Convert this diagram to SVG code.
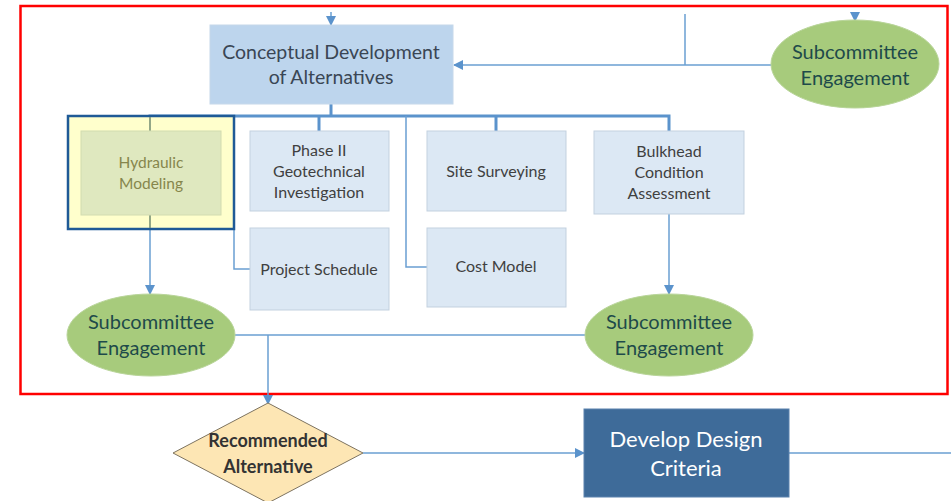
<svg xmlns="http://www.w3.org/2000/svg" width="951" height="501" viewBox="0 0 951 501">
<style>
text{font-family:Lato,"Liberation Sans",sans-serif;text-anchor:middle}
.box{fill:#dce8f4;stroke:#c3d1df;stroke-width:1}
.bt{font-size:16px;fill:#404040}
.ell{fill:#a7cb7c;stroke:#b9d59a;stroke-width:1}
.et{font-size:20px;fill:#1e4a4a}
.c{fill:none;stroke:#6a9fd2;stroke-width:1.5}
.ct{fill:none;stroke:#5b93cc;stroke-width:3}
</style>
<defs>
<marker id="ah" markerWidth="10" markerHeight="10" refX="9" refY="5" orient="auto" markerUnits="userSpaceOnUse">
<path d="M0,0 L10,5 L0,10 Z" fill="#5b93cc"/>
</marker>
</defs>
<rect x="20.5" y="6" width="927" height="388" fill="none" stroke="#ff0000" stroke-width="2.5"/>
<g id="connectors">
<line class="c" x1="331" y1="12" x2="331" y2="25" marker-end="url(#ah)"/>
<line class="c" x1="855" y1="12" x2="855" y2="21" marker-end="url(#ah)"/>
<line class="c" x1="685" y1="14" x2="685" y2="65"/>
<line class="c" x1="772" y1="65" x2="454" y2="65" marker-end="url(#ah)"/>
<line class="ct" x1="331" y1="104" x2="331" y2="116"/>
<polyline class="ct" points="150,131 150,116 669,116 669,131"/>
<line class="ct" x1="319" y1="116" x2="319" y2="131"/>
<line class="ct" x1="496" y1="116" x2="496" y2="131"/>
<polyline class="c" points="234,116 234,269 250,269"/>
<polyline class="c" points="406,116 406,267 427,267"/>
<line class="c" x1="150" y1="229" x2="150" y2="294" marker-end="url(#ah)"/>
<line class="c" x1="669" y1="214" x2="669" y2="294" marker-end="url(#ah)"/>
<line class="c" x1="235" y1="335" x2="585" y2="335"/>
<line class="c" x1="268" y1="335" x2="268" y2="404" marker-end="url(#ah)"/>
<line class="c" x1="363" y1="453" x2="584" y2="453" marker-end="url(#ah)"/>
<line class="c" x1="789" y1="453" x2="951" y2="453"/>
</g>
<g id="conceptual">
<rect x="210" y="25" width="243" height="79" fill="#bdd5ed" stroke="#c6d8ea"/>
<text x="331" y="59" font-size="19.5" fill="#3a4654">Conceptual Development</text>
<text x="331" y="84" font-size="19.5" fill="#3a4654">of Alternatives</text>
</g>
<g id="sub-top">
<ellipse class="ell" cx="855" cy="64" rx="84" ry="44"/>
<text class="et" x="855" y="59">Subcommittee</text>
<text class="et" x="855" y="85">Engagement</text>
</g>
<g id="hydraulic">
<rect x="68" y="116" width="166" height="113" fill="#ffffcc" stroke="#1f5a96" stroke-width="2.5"/>
<line x1="150" y1="117" x2="150" y2="131" stroke="#6f8a70" stroke-width="1.5"/>
<line x1="150" y1="215" x2="150" y2="228" stroke="#6f8a70" stroke-width="1.5"/>
<rect x="81" y="131" width="140" height="84" fill="#dfe8bf" stroke="#d2dcb0"/>
<text x="151" y="168" font-size="15.5" fill="#86864c">Hydraulic</text>
<text x="151" y="189" font-size="15.5" fill="#86864c">Modeling</text>
</g>
<g id="phase2">
<rect class="box" x="250" y="131" width="139" height="80"/>
<text class="bt" x="319" y="156">Phase II</text>
<text class="bt" x="319" y="177">Geotechnical</text>
<text class="bt" x="319" y="198">Investigation</text>
</g>
<g id="site">
<rect class="box" x="427" y="131" width="139" height="80"/>
<text class="bt" x="496" y="177">Site Surveying</text>
</g>
<g id="bulkhead">
<rect class="box" x="594" y="131" width="150" height="83"/>
<text class="bt" x="669" y="157">Bulkhead</text>
<text class="bt" x="669" y="178">Condition</text>
<text class="bt" x="669" y="199">Assessment</text>
</g>
<g id="schedule">
<rect class="box" x="250" y="228" width="139" height="82"/>
<text class="bt" x="319" y="275">Project Schedule</text>
</g>
<g id="cost">
<rect class="box" x="427" y="228" width="139" height="79"/>
<text class="bt" x="496" y="272">Cost Model</text>
</g>
<g id="sub-left">
<ellipse class="ell" cx="151" cy="335" rx="84" ry="41"/>
<text class="et" x="151" y="329">Subcommittee</text>
<text class="et" x="151" y="355">Engagement</text>
</g>
<g id="sub-right">
<ellipse class="ell" cx="669" cy="335" rx="84" ry="41"/>
<text class="et" x="669" y="329">Subcommittee</text>
<text class="et" x="669" y="355">Engagement</text>
</g>
<g id="recommended">
<polygon points="268,403 363,453 268,503 173,453" fill="#fde6b4" stroke="#7d7360" stroke-width="1"/>
<text x="268" y="447" font-size="18" font-weight="bold" fill="#333">Recommended</text>
<text x="268" y="473" font-size="18" font-weight="bold" fill="#333">Alternative</text>
</g>
<g id="develop">
<rect x="584" y="409" width="205" height="88" fill="#3e6b99" stroke="#5a82ad"/>
<text x="686" y="447" font-size="22" fill="#ffffff">Develop Design</text>
<text x="686" y="476" font-size="22" fill="#ffffff">Criteria</text>
</g>
</svg>
